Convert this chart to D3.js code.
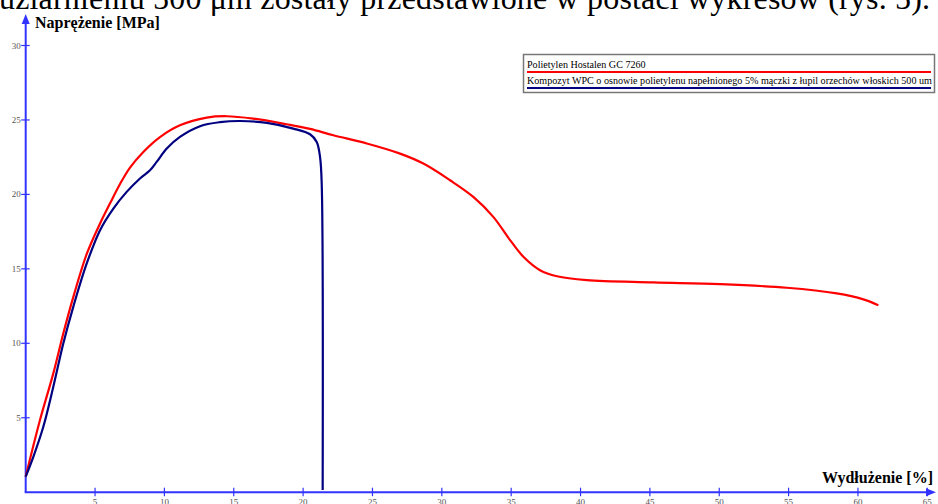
<!DOCTYPE html>
<head>
    <meta charset="utf-8">
    <script src="https://cdn.jsdelivr.net/npm/d3@7"></script>
    <style type="text/css">
        body {
            margin: 0;
            background: #fff;
        }
        svg {
            display: block;
            font-family: "Liberation Serif", "Times New Roman", serif;
        }
        .tick-label {
            font-size: 9px;
            fill: #555;
        }
        .axis-title {
            font-size: 16px;
            font-weight: bold;
            fill: #000;
        }
        .legend-text {
            font-size: 10.1px;
            fill: #000;
        }
    </style>
</head>
<body>
    <div id="chart"></div>
</body>
</html>

<script type="text/javascript">
    var width = 938, height = 504;

    // Data: strain [%] / stress [MPa]
    var hostalenStrain = [0, 1.03, 1.99, 2.71, 3.43, 4.4, 5.36, 6.08, 6.8, 7.52, 8.48, 9.68, 11.12, 13.05, 14.49, 16.41, 18.82, 20.5, 22.18, 24.59, 26.99, 28.67, 30.59, 32.27, 33.71, 34.92, 35.88, 37.08, 38.3, 40.45, 45.25, 50.06, 54.87, 58.47, 60.39, 61.47];
    var hostalenStress = [1.04, 4.85, 7.98, 10.66, 13.1, 16.0, 18.05, 19.4, 20.7, 21.8, 22.85, 23.85, 24.64, 25.16, 25.25, 25.09, 24.71, 24.4, 23.97, 23.42, 22.74, 22.07, 20.95, 19.83, 18.49, 16.93, 15.81, 14.91, 14.5, 14.24, 14.09, 13.97, 13.73, 13.35, 12.95, 12.56];

    var wpcStrain = [0, 0.55, 1.27, 1.99, 2.71, 3.43, 4.4, 5.36, 6.32, 7.28, 8.24, 8.96, 9.44, 10.17, 11.12, 12.57, 14.01, 15.45, 17.38, 19.29, 20.5, 20.98, 21.22, 21.34, 21.41];
    var wpcStress = [1.04, 2.38, 4.4, 7.08, 9.99, 12.45, 15.36, 17.6, 19.05, 20.17, 21.07, 21.62, 22.18, 23.08, 23.86, 24.58, 24.85, 24.93, 24.8, 24.42, 24.04, 23.52, 22.52, 20.73, 0.15];

    var xTicks = [5, 10, 15, 20, 25, 30, 35, 40, 45, 50, 55, 60, 65];
    var yTicks = [5, 10, 15, 20, 25, 30];

    var seriesNames = ["Polietylen Hostalen GC 7260",
        "Kompozyt WPC o osnowie polietylenu napełnionego 5% mączki z łupil orzechów włoskich 500 um"];
    var seriesColors = ["#ff0000", "#000080"];

    var axisColor = "#3333ff";

    var x = d3.scaleLinear().domain([0, 65]).range([25.7, 927.3]);
    var y = d3.scaleLinear().domain([0, 30]).range([492.2, 45.5]);

    var svg = d3.select('#chart').append("svg")
        .attr("width", width)
        .attr("height", height);

    // cut-off line of document text above the figure
    svg.append("text")
        .attr("x", -1)
        .attr("y", 9)
        .attr("textLength", 931)
        .attr("lengthAdjust", "spacing")
        .style("font-size", "32px")
        .text("uziarnieniu 500 μm zostały przedstawione w postaci wykresów (rys. 5).");

    // axes
    var x0 = x(0), y0 = y(0);

    svg.append("line")
        .attr("x1", x0).attr("y1", y0)
        .attr("x2", x0).attr("y2", 22)
        .attr("stroke", axisColor).attr("stroke-width", 2);
    svg.append("path")
        .attr("d", "M" + x0 + ",14 L" + (x0 - 4) + ",24 L" + (x0 + 4) + ",24 Z")
        .attr("fill", axisColor);

    svg.append("line")
        .attr("x1", x0 - 1).attr("y1", y0)
        .attr("x2", 928).attr("y2", y0)
        .attr("stroke", axisColor).attr("stroke-width", 2);
    svg.append("path")
        .attr("d", "M936," + y0 + " L926," + (y0 - 4) + " L926," + (y0 + 4) + " Z")
        .attr("fill", axisColor);

    svg.selectAll(".ytick")
        .data(yTicks)
      .enter().append("line")
        .attr("class", "ytick")
        .attr("x1", x0 - 4.5).attr("x2", x0 + 4)
        .attr("y1", function(d) { return y(d); })
        .attr("y2", function(d) { return y(d); })
        .attr("stroke", axisColor).attr("stroke-width", 1.2);

    svg.selectAll(".ylabel")
        .data(yTicks)
      .enter().append("text")
        .attr("class", "tick-label")
        .attr("x", x0 - 5)
        .attr("y", function(d) { return y(d) + 3; })
        .attr("text-anchor", "end")
        .text(function(d) { return d; });

    svg.selectAll(".xtick")
        .data(xTicks)
      .enter().append("line")
        .attr("class", "xtick")
        .attr("x1", function(d) { return x(d); })
        .attr("x2", function(d) { return x(d); })
        .attr("y1", y0 - 4.5).attr("y2", y0 + 4)
        .attr("stroke", axisColor).attr("stroke-width", 1.2);

    svg.selectAll(".xlabel")
        .data(xTicks)
      .enter().append("text")
        .attr("class", "tick-label")
        .attr("x", function(d) { return x(d); })
        .attr("y", 505)
        .attr("text-anchor", "middle")
        .text(function(d) { return d; });

    svg.append("text")
        .attr("class", "axis-title")
        .attr("x", 35)
        .attr("y", 28)
        .text("Naprężenie [MPa]");

    svg.append("text")
        .attr("class", "axis-title")
        .attr("x", 933)
        .attr("y", 483)
        .attr("text-anchor", "end")
        .text("Wydłużenie [%]");

    // curves
    var line = d3.line()
        .x(function(d) { return x(d[0]); })
        .y(function(d) { return y(d[1]); })
        .curve(d3.curveCatmullRom.alpha(0.5));

    var series = [d3.zip(hostalenStrain, hostalenStress), d3.zip(wpcStrain, wpcStress)];

    svg.selectAll(".curve")
        .data(series)
      .enter().append("path")
        .attr("class", "curve")
        .attr("d", line)
        .attr("fill", "none")
        .attr("stroke", function(d, i) { return seriesColors[i]; })
        .attr("stroke-width", 2.2)
        .attr("stroke-linejoin", "round");

    // legend
    var legend = svg.append("g").attr("id", "legend");
    legend.append("rect")
        .attr("x", 523.5).attr("y", 54.5)
        .attr("width", 411).attr("height", 38)
        .attr("fill", "#fff")
        .attr("stroke", "#777")
        .attr("stroke-width", 1.5);

    seriesNames.forEach(function(name, i) {
        legend.append("text")
            .attr("class", "legend-text")
            .attr("x", 527)
            .attr("y", 68 + i * 16)
            .text(name);
        legend.append("line")
            .attr("x1", 527).attr("x2", 931)
            .attr("y1", 72 + i * 16).attr("y2", 72 + i * 16)
            .attr("stroke", seriesColors[i])
            .attr("stroke-width", 2.2);
    });
</script>
